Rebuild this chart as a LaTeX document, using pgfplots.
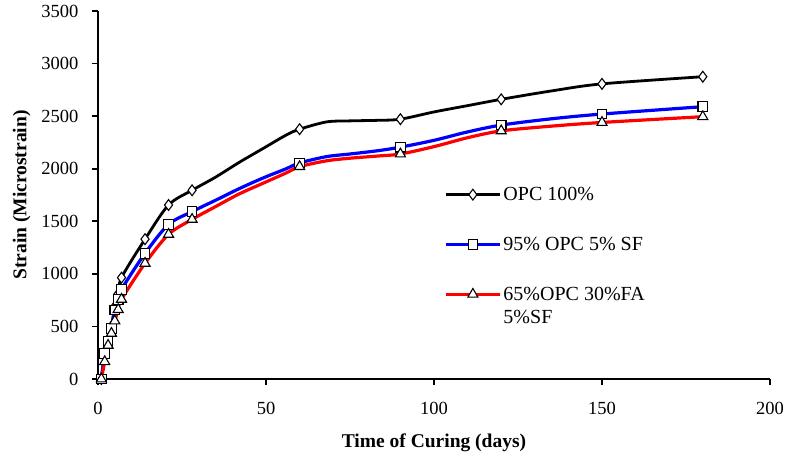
\documentclass[border=0pt]{standalone}
\usepackage{fontspec}
\setmainfont{Liberation Serif}
\usepackage{pgfplots}
\usepackage{pgfplotstable}
\pgfplotsset{compat=1.18}

% strain vs curing time, three mixes
\pgfplotstableread{
day strain
1 0
2 250
3 370
4 500
5 690
6 810
7 964
14 1330
21 1655
28 1795
35 1920
42 2060
49 2190
56 2320
60 2376
68 2445
75 2455
83 2460
90 2471
100 2540
110 2600
120 2660
135 2740
150 2807
180 2875
}\opc

\pgfplotstableread{
day strain
1 0
2 244
3 355
4 482
5 656
6 758
7 853
14 1195
21 1470
28 1592
35 1700
42 1810
49 1910
56 2000
60 2055
68 2115
75 2140
83 2170
90 2205
100 2270
110 2350
120 2415
135 2475
150 2520
180 2590
}\sf

\pgfplotstableread{
day strain
1 0
2 165
3 320
4 434
5 552
6 660
7 758
14 1100
21 1376
28 1518
35 1640
42 1760
49 1860
56 1960
60 2020
68 2075
75 2100
83 2120
90 2140
100 2210
110 2295
120 2360
135 2405
150 2440
180 2495
}\fa

\begin{document}
\begin{tikzpicture}
\begin{axis}[
    scale only axis,
    width=672pt,
    height=368pt,
    xmin=0, xmax=200,
    ymin=0, ymax=3500,
    xtick={0,50,...,200},
    ytick={0,500,...,3500},
    axis lines=left,
    axis line style={-, line width=2.6pt},
    tick style={line width=1.8pt, black},
    tick align=outside,
    major tick length=6pt,
    tick label style={font=\fontsize{18.5}{20}\selectfont},
    /pgf/number format/assume math mode=true,
    /pgf/number format/1000 sep={},
    xticklabel style={yshift=-14pt},
    yticklabel style={xshift=-10pt},
    xlabel={\textbf{Time of Curing (days)}},
    ylabel={\textbf{Strain (Microstrain)}},
    label style={font=\fontsize{19.5}{22}\selectfont},
    xlabel style={yshift=-12pt},
    ylabel style={yshift=4pt},
    clip=false,
    legend image code/.code={
        \draw[mark repeat=2,mark phase=2,#1]
        plot coordinates {(0pt,0pt) (27pt,0pt) (54pt,0pt)};
    },
    legend style={
        at={(0.515,0.527)},
        anchor=north west,
        draw=none,
        fill=none,
        inner sep=0pt,
        row sep=31pt,
        font=\fontsize{20}{23}\selectfont,
        cells={anchor=west},
    },
    every axis plot/.append style={smooth, tension=0.5},
]

\addlegendimage{black, line width=2.8pt, mark=diamond*, mark size=5.4pt,
    mark options={fill=white, draw=black, line width=1.1pt}}
\addlegendentry{OPC 100\%}
\addlegendimage{blue, line width=3.2pt, mark=square*, mark size=4.8pt,
    mark options={fill=white, draw=black, line width=1.1pt}}
\addlegendentry{95\% OPC 5\% SF}
\addlegendimage{red, line width=3.2pt, mark=triangle*, mark size=5.8pt,
    mark options={fill=white, draw=black, line width=1.1pt}}
\addlegendentry{\parbox[t]{160pt}{65\%OPC 30\%FA\\5\%SF}}

\addplot[forget plot, black, line width=2.8pt, mark=diamond*, mark size=5.4pt,
    mark indices={1,2,3,4,5,6,7,8,9,10,15,19,22,24,25},
    mark options={fill=white, draw=black, line width=1.1pt, solid}]
    table[x=day, y=strain] {\opc};
\addplot[forget plot, blue, line width=3.2pt, mark=square*, mark size=4.8pt,
    mark indices={1,2,3,4,5,6,7,8,9,10,15,19,22,24,25},
    mark options={fill=white, draw=black, line width=1.1pt, solid}]
    table[x=day, y=strain] {\sf};
\addplot[forget plot, red, line width=3.2pt, mark=triangle*, mark size=5.8pt,
    mark indices={1,2,3,4,5,6,7,8,9,10,15,19,22,24,25},
    mark options={fill=white, draw=black, line width=1.1pt, solid}]
    table[x=day, y=strain] {\fa};

\end{axis}
\pgfresetboundingbox
\path (-98pt,-82pt) rectangle (689pt,379pt);
\end{tikzpicture}
\end{document}
